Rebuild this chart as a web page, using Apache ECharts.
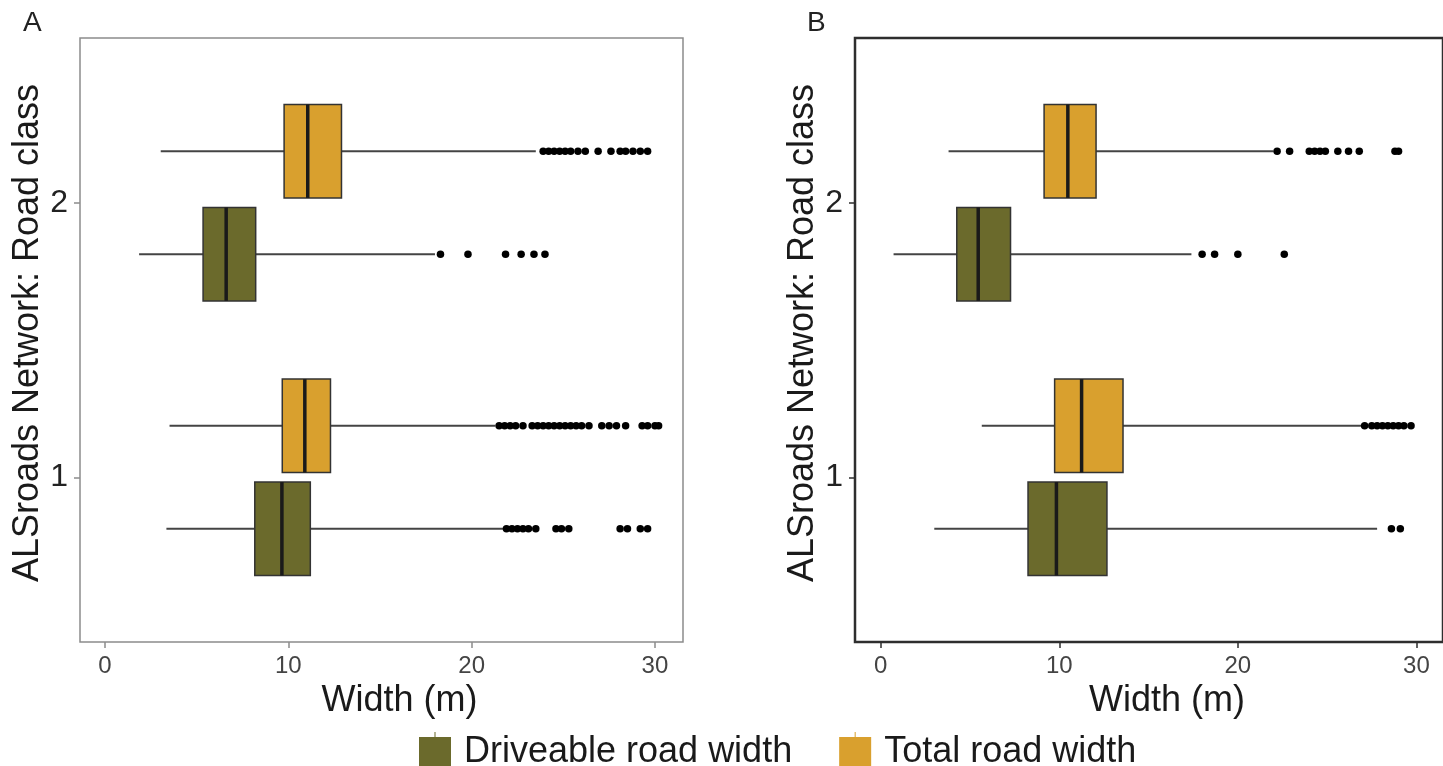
<!DOCTYPE html>
<html>
<head>
<meta charset="utf-8">
<title>Road width by class</title>
<script src="https://cdn.jsdelivr.net/npm/echarts@6/dist/echarts.min.js"></script>
<style>
  html, body { margin: 0; padding: 0; background: #fff; }
  #chart { width: 1443px; height: 766px; }
</style>
</head>
<body>
<div id="chart"></div>
<script>
const classes = [1, 2];
const xTicks = [0, 10, 20, 30];
const seriesNames = ['Driveable road width', 'Total road width'];
const colors = ['#6b6a2c', '#d9a02e'];

// [lower whisker, Q1, median, Q3, upper whisker]; row 0 = class 1, row 1 = class 2
const aDrive = [[3.35, 8.17, 9.65, 11.2, 21.8], [1.86, 5.35, 6.61, 8.22, 18.0]];
const aTotal = [[3.52, 9.67, 10.9, 12.3, 21.3], [3.04, 9.77, 11.06, 12.9, 23.5]];
const bDrive = [[3.0, 8.25, 9.84, 12.67, 27.8], [0.72, 4.26, 5.46, 7.27, 17.4]];
const bTotal = [[5.66, 9.74, 11.25, 13.57, 26.9], [3.8, 9.15, 10.48, 12.06, 22.0]];

// outliers, per class
const aDriveOut = [
  [21.9, 22.2, 22.5, 22.8, 23.1, 23.5, 24.6, 24.9, 25.3, 28.1, 28.5, 29.2, 29.6],
  [18.3, 19.8, 21.85, 22.7, 23.4, 24.0]
];
const aTotalOut = [
  [21.5, 21.8, 22.1, 22.4, 22.8, 23.3, 23.6, 23.9, 24.2, 24.5, 24.8, 25.1, 25.4, 25.7, 26.0, 26.4, 27.1, 27.5, 27.9, 28.4, 29.3, 29.6, 30.0, 30.2],
  [23.9, 24.2, 24.5, 24.8, 25.1, 25.4, 25.8, 26.2, 26.9, 27.6, 28.1, 28.4, 28.8, 29.2, 29.6]
];
const bDriveOut = [
  [28.6, 29.1],
  [18.0, 18.7, 20.0, 22.6]
];
const bTotalOut = [
  [27.1, 27.5, 27.8, 28.1, 28.4, 28.7, 29.0, 29.3, 29.7],
  [22.2, 22.9, 24.0, 24.3, 24.6, 24.9, 25.6, 26.2, 26.8, 28.8, 29.0]
];

const font = '"Liberation Sans", Arial, sans-serif';
const dodge = 0.1875;   // half of the dodge width 0.375
const boxH = 0.34;

function boxSeries(name, idx, stats, offset, color) {
  return {
    type: 'custom',
    name: name,
    xAxisIndex: idx,
    yAxisIndex: idx,
    itemStyle: { color: color },
    encode: { x: [1, 2, 3, 4, 5], y: 0 },
    data: classes.map((c, i) => [c].concat(stats[i])),
    renderItem: function (params, api) {
      const y = api.value(0) + offset;
      const p = [1, 2, 3, 4, 5].map(k => api.coord([api.value(k), y]));
      const h = Math.abs(api.size([0, boxH])[1]);
      const top = p[0][1] - h / 2;
      const whisk = { stroke: '#444', lineWidth: 2 };
      return {
        type: 'group',
        children: [
          { type: 'line', shape: { x1: p[0][0], y1: p[0][1], x2: p[1][0], y2: p[0][1] }, style: whisk },
          { type: 'line', shape: { x1: p[3][0], y1: p[0][1], x2: p[4][0], y2: p[0][1] }, style: whisk },
          { type: 'rect', shape: { x: p[1][0], y: top, width: p[3][0] - p[1][0], height: h },
            style: { fill: color, stroke: '#333', lineWidth: 1.5 } },
          { type: 'line', shape: { x1: p[2][0], y1: top, x2: p[2][0], y2: top + h },
            style: { stroke: '#1a1a1a', lineWidth: 3.5 } }
        ]
      };
    }
  };
}

function outlierSeries(name, idx, outs, offset) {
  const pts = [];
  classes.forEach((c, i) => outs[i].forEach(v => pts.push([v, c + offset])));
  return {
    type: 'scatter',
    name: name,
    xAxisIndex: idx,
    yAxisIndex: idx,
    symbolSize: 7.5,
    itemStyle: { color: '#000', opacity: 1 },
    silent: true,
    data: pts
  };
}

function xAxis(idx, min, max, tickColor) {
  return {
    type: 'value', gridIndex: idx, min: min, max: max,
    name: 'Width (m)', nameLocation: 'middle', nameGap: 40,
    nameTextStyle: { fontSize: 36, color: '#1a1a1a', fontFamily: font, padding: [0, 0, 0, 36] },
    axisLine: { show: false, onZero: false },
    splitLine: { show: false },
    axisTick: { show: true, length: 6, customValues: xTicks, lineStyle: { color: tickColor, width: 1.5 } },
    axisLabel: { customValues: xTicks, margin: 12, fontSize: 24, color: '#444', fontFamily: font }
  };
}

function yAxis(idx, tickColor) {
  return {
    type: 'value', gridIndex: idx, min: 0.4, max: 2.6,
    name: 'ALSroads Network: Road class', nameLocation: 'middle', nameGap: 26, nameRotate: 90,
    nameTextStyle: { fontSize: 36, color: '#1a1a1a', fontFamily: font, padding: [0, 0, 0, 14] },
    axisLine: { show: false, onZero: false },
    splitLine: { show: false },
    axisTick: { show: true, length: 6, customValues: classes, lineStyle: { color: tickColor, width: 1.5 } },
    axisLabel: { customValues: classes, margin: 12, fontSize: 32, color: '#222', fontFamily: font }
  };
}

const chart = echarts.init(document.getElementById('chart'), null, { renderer: 'canvas' });
chart.setOption({
  animation: false,
  backgroundColor: '#fff',
  title: [
    { text: 'A', left: 18, top: 4, textStyle: { fontSize: 28, fontWeight: 'normal', color: '#222', fontFamily: font } },
    { text: 'B', left: 802, top: 4, textStyle: { fontSize: 28, fontWeight: 'normal', color: '#222', fontFamily: font } }
  ],
  grid: [
    { left: 80, top: 38, width: 603, height: 604, show: true, borderColor: '#8c8c8c', borderWidth: 1.5, backgroundColor: '#fff' },
    { left: 855, top: 38, width: 595, height: 604, show: true, borderColor: '#2e2e2e', borderWidth: 2.5, backgroundColor: '#fff' }
  ],
  xAxis: [xAxis(0, -1.364, 31.53, '#8c8c8c'), xAxis(1, -1.44, 31.49, '#2e2e2e')],
  yAxis: [yAxis(0, '#8c8c8c'), yAxis(1, '#2e2e2e')],
  legend: {
    data: seriesNames,
    left: 414, top: 727,
    itemWidth: 32, itemHeight: 40, itemGap: 47,
    icon: 'path://M0,5H32V35H0ZM15.5,0H16.5V40H15.5Z',
    textStyle: { fontSize: 36, color: '#1a1a1a', fontFamily: font, padding: [0, 0, 0, 8] }
  },
  series: [
    boxSeries(seriesNames[0], 0, aDrive, -dodge, colors[0]),
    boxSeries(seriesNames[1], 0, aTotal, dodge, colors[1]),
    outlierSeries('a-drive-out', 0, aDriveOut, -dodge),
    outlierSeries('a-total-out', 0, aTotalOut, dodge),
    boxSeries(seriesNames[0], 1, bDrive, -dodge, colors[0]),
    boxSeries(seriesNames[1], 1, bTotal, dodge, colors[1]),
    outlierSeries('b-drive-out', 1, bDriveOut, -dodge),
    outlierSeries('b-total-out', 1, bTotalOut, dodge)
  ]
});
</script>
</body>
</html>
